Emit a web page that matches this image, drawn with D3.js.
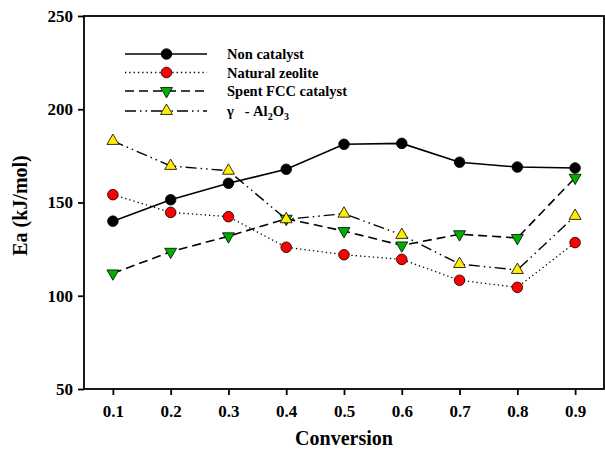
<!DOCTYPE html>
<html>
<head>
<meta charset="utf-8">
<script src="https://cdn.jsdelivr.net/npm/d3@7/dist/d3.min.js"></script>
<style>
  html, body { margin: 0; padding: 0; background: #fff; }
  svg { display: block; }
  text { font-family: "Liberation Serif", "Times New Roman", serif; font-weight: bold; }
</style>
</head>
<body>
<svg id="chart" width="605" height="457"></svg>
<script>
const conversion = [0.1, 0.2, 0.3, 0.4, 0.5, 0.6, 0.7, 0.8, 0.9];
const nonCatalyst = [140, 151.5, 160.3, 167.8, 181.2, 181.7, 171.6, 169, 168.5];
const naturalZeolite = [154.2, 144.7, 142.4, 126, 122, 119.5, 108.3, 104.5, 128.5];
const spentFCC = [112, 123.6, 131.9, 141.3, 134.7, 127, 133, 131, 163.3];
const gammaAl2O3 = [183, 169.6, 167, 141, 144, 132.6, 117, 113.8, 142.8];
const yTicks = [50, 100, 150, 200, 250];
const xTicks = [0.1, 0.2, 0.3, 0.4, 0.5, 0.6, 0.7, 0.8, 0.9];

const svg = d3.select("#chart");
const mLeft = 84, mRight = 604, mTop = 16, mBottom = 389;

const x = d3.scaleLinear().domain([0.05, 0.95]).range([mLeft, mRight]);
const y = d3.scaleLinear().domain([50, 250]).range([mBottom, mTop]);

const series = [
  { name: "Non catalyst", values: nonCatalyst, dash: null, width: 1.6, marker: "circle", fill: "#000000" },
  { name: "Natural zeolite", values: naturalZeolite, dash: "1.3,3", width: 1.3, marker: "circle", fill: "#ff0000" },
  { name: "Spent FCC catalyst", values: spentFCC, dash: "9,5", width: 1.6, marker: "down", fill: "#00b000" },
  { name: "gamma", values: gammaAl2O3, dash: "11,4,1.5,4,1.5,4", width: 1.4, marker: "up", fill: "#ffee00" }
];

// frame
svg.append("rect").attr("x", mLeft).attr("y", mTop).attr("width", mRight - mLeft).attr("height", mBottom - mTop)
  .attr("fill", "none").attr("stroke", "#000").attr("stroke-width", 1.8);

// axes
const yAxis = d3.axisLeft(y).tickValues(yTicks).tickSize(6).tickPadding(5).tickFormat(d3.format("d"));
const gy = svg.append("g").attr("transform", `translate(${mLeft},0)`).call(yAxis);
gy.select(".domain").remove();
gy.selectAll("line").attr("stroke-width", 1.8);
gy.selectAll("text").attr("font-size", 17).attr("fill", "#000")
  .attr("font-family", "Liberation Serif").attr("font-weight", "bold");

const xAxis = d3.axisBottom(x).tickValues(xTicks).tickSize(6).tickPadding(10).tickFormat(d3.format(".1f"));
const gx = svg.append("g").attr("transform", `translate(0,${mBottom})`).call(xAxis);
gx.select(".domain").remove();
gx.selectAll("line").attr("stroke-width", 1.8);
gx.selectAll("text").attr("font-size", 17).attr("fill", "#000")
  .attr("font-family", "Liberation Serif").attr("font-weight", "bold");

// axis titles
svg.append("text").attr("x", (mLeft + mRight) / 2).attr("y", 445).attr("text-anchor", "middle")
  .attr("font-size", 20).text("Conversion");
svg.append("text").attr("transform", `translate(27,${(mTop + mBottom) / 2 + 3}) rotate(-90)`)
  .attr("text-anchor", "middle").attr("font-size", 20).text("Ea (kJ/mol)");

const line = d3.line().x((d, i) => x(conversion[i])).y(d => y(d));

function drawMarker(g, type, fill, cx, cy) {
  if (type === "circle") {
    g.append("circle").attr("cx", cx).attr("cy", cy).attr("r", 5.3)
      .attr("fill", fill).attr("stroke", "#000").attr("stroke-width", 0.8);
  } else {
    const sym = d3.symbol().type(d3.symbolTriangle).size(62);
    g.append("path").attr("d", sym())
      .attr("transform", `translate(${cx},${cy})${type === "down" ? " rotate(180)" : ""}`)
      .attr("fill", fill).attr("stroke", "#000").attr("stroke-width", 0.8);
  }
}

series.forEach(s => {
  svg.append("path").datum(s.values).attr("d", line)
    .attr("fill", "none").attr("stroke", "#000").attr("stroke-width", s.width)
    .attr("stroke-dasharray", s.dash);
});
series.forEach(s => {
  const g = svg.append("g");
  s.values.forEach((v, i) => drawMarker(g, s.marker, s.fill, x(conversion[i]), y(v)));
});

// legend
const legY = [54, 72.5, 91, 111];
series.forEach((s, i) => {
  const ly = legY[i];
  svg.append("line").attr("x1", 125).attr("x2", 207).attr("y1", ly).attr("y2", ly)
    .attr("stroke", "#000").attr("stroke-width", s.width).attr("stroke-dasharray", s.dash);
  drawMarker(svg, s.marker, s.fill, 166.5, ly);
  const t = svg.append("text").attr("x", 227).attr("y", ly + 5).attr("font-size", 14.5)
    .style("white-space", "pre");
  if (s.name === "gamma") {
    t.append("tspan").text("\u03b3   - Al");
    t.append("tspan").attr("font-size", 10).attr("dy", 4).text("2");
    t.append("tspan").attr("dy", -4).text("O");
    t.append("tspan").attr("font-size", 10).attr("dy", 4).text("3");
  } else {
    t.text(s.name);
  }
});
</script>
</body>
</html>
